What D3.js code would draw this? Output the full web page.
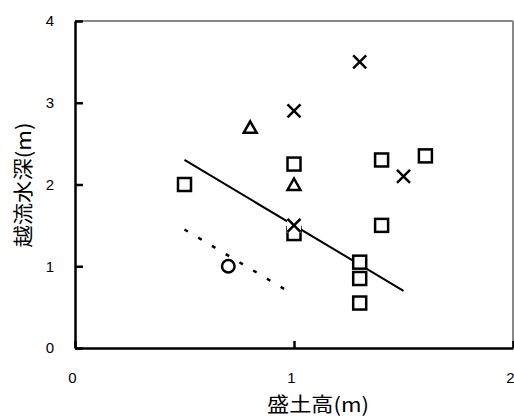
<!DOCTYPE html>
<html>
<head>
<meta charset="utf-8">
<script src="https://cdn.jsdelivr.net/npm/d3@7"></script>
<style>
  body { margin: 0; background: #fff; }
  svg { display: block; }
</style>
</head>
<body>
<div id="chart"></div>
<script>
// data
const xTicks = [0, 1, 2];
const yTicks = [0, 1, 2, 3, 4];

const squareX = [0.5, 1.0, 1.0, 1.3, 1.3, 1.3, 1.4, 1.4, 1.6];
const squareY = [2.0, 2.25, 1.4, 1.05, 0.85, 0.55, 1.5, 2.3, 2.35];
const crossX = [1.3, 1.0, 1.5, 1.0];
const crossY = [3.5, 2.9, 2.1, 1.5];
const triX = [0.8, 1.0];
const triY = [2.7, 2.0];
const circX = [0.7];
const circY = [1.0];

const solidX = [0.5, 1.5];
const solidY = [2.3, 0.7];
const dotX = [0.5, 1.0];
const dotY = [1.45, 0.65];

const xTitle = "盛土高(m)";
const yTitle = "越流水深(m)";

const W = 514, H = 418;
const plotL = 75, plotR = 513, plotT = 21, plotB = 348;

var svg = d3.select("#chart").append("svg")
  .attr("width", W).attr("height", H);

var x = d3.scaleLinear().domain([0, 2]).range([plotL, plotR]);
var y = d3.scaleLinear().domain([0, 4]).range([plotB, plotT]);

// plot frame, top and right in grey
svg.append("line")
  .attr("x1", plotL).attr("x2", plotR).attr("y1", plotT).attr("y2", plotT)
  .attr("stroke", "#888").attr("stroke-width", 2);
svg.append("line")
  .attr("x1", plotR).attr("x2", plotR).attr("y1", plotT).attr("y2", plotB)
  .attr("stroke", "#888").attr("stroke-width", 2);

// axes
var yAxis = svg.append("g")
  .attr("transform", "translate(" + plotL + ",0)")
  .call(d3.axisLeft(y).tickValues(yTicks).tickFormat(d3.format("d"))
    .tickSize(-8).tickSizeOuter(0).tickPadding(21));
var xAxis = svg.append("g")
  .attr("transform", "translate(0," + plotB + ")")
  .call(d3.axisBottom(x).tickValues(xTicks).tickFormat(d3.format("d"))
    .tickSize(-7).tickSizeOuter(0).tickPadding(24));

[yAxis, xAxis].forEach(function (g) {
  g.select(".domain").attr("stroke", "#000").attr("stroke-width", 2.5);
  g.selectAll(".tick line").attr("stroke", "#000").attr("stroke-width", 2.5);
  g.selectAll(".tick text")
    .attr("fill", "#000")
    .style("font-family", "'Liberation Sans', Arial, sans-serif")
    .style("font-size", "15px");
});
xAxis.selectAll(".tick text").attr("dx", -3);

// axis titles
svg.append("text")
  .attr("x", 318).attr("y", 412)
  .attr("text-anchor", "middle")
  .attr("textLength", 102).attr("lengthAdjust", "spacingAndGlyphs")
  .style("font-family", "'Noto Sans CJK JP', sans-serif")
  .style("font-size", "20px")
  .text(xTitle);
svg.append("text")
  .attr("transform", "translate(31,185) rotate(-90)")
  .attr("text-anchor", "middle")
  .attr("textLength", 125).attr("lengthAdjust", "spacingAndGlyphs")
  .style("font-family", "'Noto Sans CJK JP', sans-serif")
  .style("font-size", "20px")
  .text(yTitle);

// trend lines
var line = d3.line().x(function (d) { return x(d[0]); }).y(function (d) { return y(d[1]); });
svg.append("path")
  .attr("d", line(d3.zip(solidX, solidY)))
  .attr("fill", "none").attr("stroke", "#000").attr("stroke-width", 2);
svg.append("path")
  .attr("d", line(d3.zip(dotX, dotY)))
  .attr("fill", "none").attr("stroke", "#000").attr("stroke-width", 2.5)
  .attr("stroke-dasharray", "4,12");

// squares
svg.selectAll(".sq").data(d3.zip(squareX, squareY)).enter()
  .append("rect")
  .attr("class", "sq")
  .attr("x", function (d) { return x(d[0]) - 6.5; })
  .attr("y", function (d) { return y(d[1]) - 6.5; })
  .attr("width", 13).attr("height", 13)
  .attr("fill", "#fff").attr("stroke", "#000").attr("stroke-width", 2.5);

// crosses (white box behind, like the excel marker)
var cr = svg.selectAll(".cr").data(d3.zip(crossX, crossY)).enter()
  .append("g")
  .attr("class", "cr")
  .attr("transform", function (d) { return "translate(" + x(d[0]) + "," + y(d[1]) + ")"; });
cr.append("rect")
  .attr("x", -7).attr("y", -7).attr("width", 14).attr("height", 14)
  .attr("fill", "#fff");
cr.append("path")
  .attr("d", "M-6.5,-6.5L6.5,6.5M-6.5,6.5L6.5,-6.5")
  .attr("stroke", "#000").attr("stroke-width", 2.5).attr("fill", "none");

// triangles
svg.selectAll(".tri").data(d3.zip(triX, triY)).enter()
  .append("path")
  .attr("class", "tri")
  .attr("transform", function (d) { return "translate(" + x(d[0]) + "," + y(d[1]) + ")"; })
  .attr("d", "M0,-6L6.5,5.5L-6.5,5.5Z")
  .attr("fill", "#fff").attr("stroke", "#000").attr("stroke-width", 2.5)
  .attr("stroke-linejoin", "miter");

// circles
svg.selectAll(".ci").data(d3.zip(circX, circY)).enter()
  .append("circle")
  .attr("class", "ci")
  .attr("cx", function (d) { return x(d[0]); })
  .attr("cy", function (d) { return y(d[1]); })
  .attr("r", 6.3)
  .attr("fill", "#fff").attr("stroke", "#000").attr("stroke-width", 2.5);
</script>
</body>
</html>
